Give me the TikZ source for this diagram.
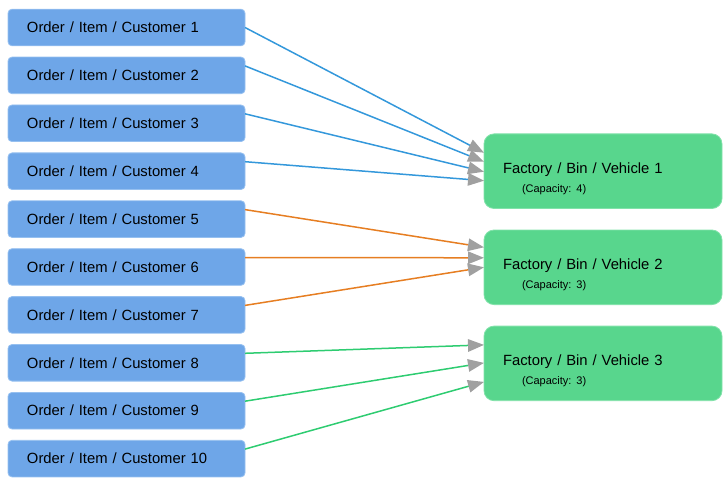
\documentclass[tikz,border=0pt]{standalone}
\usepackage{fontspec}
\setmainfont{Liberation Sans}
\usepackage{xcolor}
\usepackage{tikz}
\usetikzlibrary{arrows.meta}
\usetikzlibrary{positioning}
\definecolor{custfill}{RGB}{110,166,232}
\definecolor{custdraw}{RGB}{150,192,240}
\definecolor{binfill}{RGB}{88,214,141}
\definecolor{bindraw}{RGB}{130,226,170}
\definecolor{lblue}{RGB}{52,152,219}
\definecolor{lorange}{RGB}{230,126,34}
\definecolor{lgreen}{RGB}{46,204,113}
\definecolor{tipgray}{RGB}{160,160,160}
\tikzset{
    cust/.style={
           rectangle,
           rounded corners=4pt,
           fill=custfill,
           draw=custdraw, line width=0.8pt,
           text width=199pt,
           inner xsep=19pt,
           inner ysep=0pt,
           outer sep=0pt,
           minimum height=36.6pt,
           align=left,
           font=\fontsize{14.8}{18}\selectfont,
           },
    bin/.style={
           rectangle,
           rounded corners=10pt,
           fill=binfill,
           draw=bindraw, line width=0.8pt,
           text width=200pt,
           inner xsep=19pt,
           inner ysep=0pt,
           outer sep=0pt,
           minimum height=74.6pt,
           align=left,
           font=\fontsize{14.8}{18}\selectfont,
           },
    assign/.style={
           line width=1.5pt,
           -{Triangle[length=16pt,width=12.5pt,color=tipgray]},
           },
}
\newcommand{\binlabel}[2]{\rule{0pt}{25pt}Factory / Bin / Vehicle #1\\[1pt]%
	\hspace*{19pt}{\fontsize{11}{13}\selectfont (Capacity:\ #2)}}

\begin{document}
\begin{tikzpicture}[node distance=11.3pt]
	\useasboundingbox (0pt,0pt) rectangle (728pt,-481pt);
	\node[cust, anchor=west] (c1) at (8pt,-27.5pt) {Order / Item / Customer 1};
	\node[cust, below=of c1] (c2) {Order / Item / Customer 2};
	\node[cust, below=of c2] (c3) {Order / Item / Customer 3};
	\node[cust, below=of c3] (c4) {Order / Item / Customer 4};
	\node[cust, below=of c4] (c5) {Order / Item / Customer 5};
	\node[cust, below=of c5] (c6) {Order / Item / Customer 6};
	\node[cust, below=of c6] (c7) {Order / Item / Customer 7};
	\node[cust, below=of c7] (c8) {Order / Item / Customer 8};
	\node[cust, below=of c8] (c9) {Order / Item / Customer 9};
	\node[cust, below=of c9] (c10) {Order / Item / Customer 10};

	\node[bin, right=239pt of c4] (b1) {\binlabel{1}{4}};
	\node[bin, below=21.5pt of b1] (b2) {\binlabel{2}{3}};
	\node[bin, below=21.5pt of b2] (b3) {\binlabel{3}{3}};

	% vehicle 1
	\draw[assign, lblue]	(c1.east) -- ([yshift=18.5pt]b1.west);
	\draw[assign, lblue]	([yshift=9.5pt]c2.east) -- ([yshift=9.5pt]b1.west);
	\draw[assign, lblue]	([yshift=9.5pt]c3.east) -- ([yshift=-0.5pt]b1.west);
	\draw[assign, lblue]	([yshift=9.5pt]c4.east) -- ([yshift=-9.5pt]b1.west);
	% vehicle 2
	\draw[assign, lorange]	([yshift=9.5pt]c5.east) -- ([yshift=20pt]b2.west);
	\draw[assign, lorange]	([yshift=9.5pt]c6.east) -- ([yshift=9.5pt]b2.west);
	\draw[assign, lorange]	([yshift=9.5pt]c7.east) -- (b2.west);
	% vehicle 3
	\draw[assign, lgreen]	([yshift=9.5pt]c8.east) -- ([yshift=18.5pt]b3.west);
	\draw[assign, lgreen]	([yshift=9.5pt]c9.east) -- ([yshift=0.5pt]b3.west);
	\draw[assign, lgreen]	([yshift=9.5pt]c10.east) -- ([yshift=-18.5pt]b3.west);
\end{tikzpicture}
\end{document}
